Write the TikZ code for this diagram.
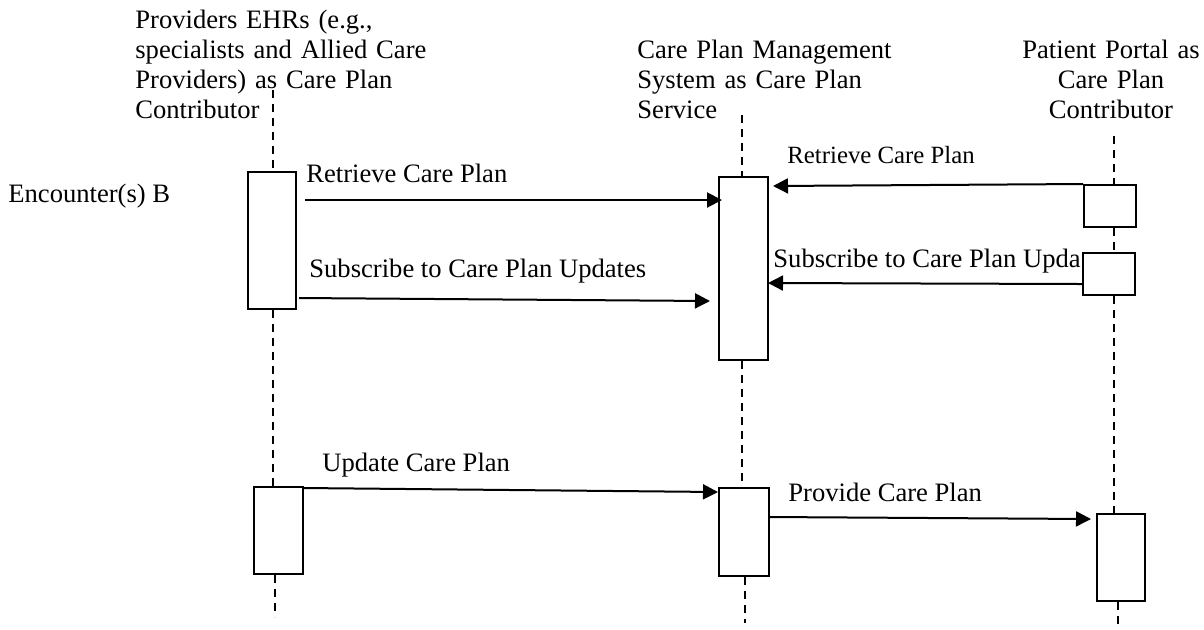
\documentclass[tikz,border=0pt]{standalone}
\usepackage{fontspec}
\setmainfont{Liberation Serif}
\usetikzlibrary{arrows.meta}

\begin{document}
\begin{tikzpicture}[x=0.5pt, y=-0.5pt,
    actbox/.style={draw, line width=1pt, fill=white, inner sep=0pt, anchor=north west},
    lifeline/.style={line width=1pt, dash pattern=on 4pt off 3pt},
    msg/.style={line width=1pt, -{Triangle[length=7.5pt,width=7.5pt]}},
    lbl/.style={anchor=base west, inner sep=0pt, font=\fontsize{13.3}{15}\selectfont},
    hdr/.style={inner sep=0pt, text width=#1, font=\fontsize{13.3}{15}\selectfont}]
    \path[use as bounding box, fill=white] (0,0) rectangle (1204,629);

    % headers
    \node[hdr=150pt, anchor=base west, align=left] (ehrHdr) at (135,28)
        {Providers EHRs (e.g.,\\ specialists and Allied Care\\ Providers) as Care Plan\\ Contributor};
    \node[hdr=140pt, anchor=base west, align=left] (cpmHdr) at (637,58)
        {Care Plan Management\\ System as Care Plan\\ Service};
    \node[hdr=90pt, anchor=base, align=center] (ptlHdr) at (1111,58)
        {Patient Portal as\\ Care Plan\\ Contributor};
    \node[lbl] (encB) at (8,202) {Encounter(s) B};

    % activation boxes
    \node[actbox, minimum width=24pt, minimum height=68.5pt] (ehrBoxA) at (247,171) {};
    \node[actbox, minimum width=24.5pt, minimum height=43.5pt] (ehrBoxB) at (253,486) {};
    \node[actbox, minimum width=24.5pt, minimum height=91.5pt] (cpmBoxA) at (718,176) {};
    \node[actbox, minimum width=25pt, minimum height=44pt] (cpmBoxB) at (718,487) {};
    \node[actbox, minimum width=26pt, minimum height=21pt] (ptlBoxA) at (1083,184) {};
    \node[actbox, minimum width=26pt, minimum height=21pt] (ptlBoxB) at (1082,252) {};
    \node[actbox, minimum width=24pt, minimum height=43.5pt] (ptlBoxC) at (1096,513) {};

    % lifelines
    \coordinate (ehrTop) at (273,90);
    \coordinate (ehrEnd) at (275,617);
    \coordinate (cpmTop) at (742,115);
    \coordinate (cpmEnd) at (745,623);
    \coordinate (ptlTop) at (1114,136);
    \coordinate (ptlEnd) at (1118,629);
    \draw[lifeline] (ehrTop) -- (ehrTop |- ehrBoxA.north);
    \draw[lifeline] (ehrTop |- ehrBoxA.south) -- (ehrTop |- ehrBoxB.north);
    \draw[lifeline] (ehrEnd |- ehrBoxB.south) -- (ehrEnd);
    \draw[lifeline] (cpmTop) -- (cpmTop |- cpmBoxA.north);
    \draw[lifeline] (cpmTop |- cpmBoxA.south) -- (cpmTop |- cpmBoxB.north);
    \draw[lifeline] (cpmEnd |- cpmBoxB.south) -- (cpmEnd);
    \draw[lifeline] (ptlTop) -- (ptlTop |- ptlBoxA.north);
    \draw[lifeline] (ptlTop |- ptlBoxA.south) -- (ptlTop |- ptlBoxB.north);
    \draw[lifeline] (ptlTop |- ptlBoxB.south) -- (ptlTop |- ptlBoxC.north);
    \draw[lifeline] (ptlEnd |- ptlBoxC.south) -- (ptlEnd);

    % messages
    \draw[msg] ([xshift=4pt,yshift=-14.5pt]ehrBoxA.north east) -- ([xshift=2pt,yshift=-12pt]cpmBoxA.north west);
    \draw[msg] ([xshift=1pt,yshift=-63.5pt]ehrBoxA.north east) -- ([xshift=-4pt,yshift=-62.5pt]cpmBoxA.north west);
    \draw[msg] (ptlBoxA.north west) -- ([xshift=2pt,yshift=-5pt]cpmBoxA.north east);
    \draw[msg] ([yshift=-16pt]ptlBoxB.north west) -- ([xshift=-0.5pt,yshift=-53.5pt]cpmBoxA.north east);
    \draw[msg] ([yshift=-1pt]ehrBoxB.north east) -- ([yshift=-2.5pt]cpmBoxB.north west);
    \draw[msg] ([yshift=-15pt]cpmBoxB.north east) -- ([xshift=-2.5pt,yshift=-3pt]ptlBoxC.north west);

    % message labels
    \node[lbl] (retrL) at (306,182) {Retrieve Care Plan};
    \node[lbl] (subL) at (309,277) {Subscribe to Care Plan Updates};
    \node[lbl, font=\fontsize{12.4}{15}\selectfont] (retrR) at (787,163) {Retrieve Care Plan};
    \node[lbl] (subR) at (773,267) {Subscribe to Care Plan Upda};
    \node[lbl] (updL) at (322,471) {Update Care Plan};
    \node[lbl] (provL) at (788,501) {Provide Care Plan};
\end{tikzpicture}
\end{document}
